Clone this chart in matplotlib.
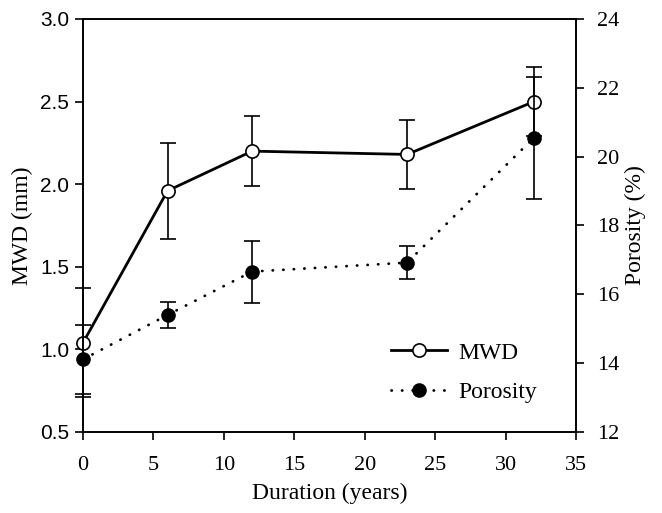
import numpy as np
import matplotlib.pyplot as plt

# ==============================
# DATA
# ==============================

duration = [0, 6, 12, 23, 32]

mwd = [1.04, 1.96, 2.20, 2.18, 2.50]
mwd_err = [0.33, 0.29, 0.21, 0.21, 0.21]

porosity = [14.11, 15.40, 16.66, 16.92, 20.55]
porosity_err = [1.0, 0.39, 0.9, 0.48, 1.77]

SERIF = "Liberation Serif"
SANS = "Liberation Sans"

# ==============================
# PLOT
# ==============================

fig = plt.figure(figsize=(6.62, 5.13), dpi=100)
ax = fig.add_axes([0.1254, 0.158, 0.745, 0.805])
ax2 = ax.twinx()

mwd_plot = ax.errorbar(duration, mwd, yerr=mwd_err,
                       color="black", linewidth=2, marker="o", markersize=9.5,
                       markerfacecolor="white", markeredgecolor="black",
                       markeredgewidth=1.2, ecolor="black", elinewidth=1.2,
                       capsize=6, capthick=1.2, clip_on=False, zorder=3)

por_plot = ax2.errorbar(duration, porosity, yerr=porosity_err,
                        color="black", linewidth=2, linestyle=(0, (0.1, 3.7)),
                        marker="o", markersize=9.5, markerfacecolor="black",
                        markeredgecolor="black", ecolor="black", elinewidth=1.2,
                        capsize=6, capthick=1.2, clip_on=False, zorder=3)
por_plot[0].set_dash_capstyle("round")

ax.set_xlim(0, 35)
ax.set_ylim(0.5, 3.0)
ax2.set_ylim(12, 24)

ax.set_xticks(np.arange(0, 36, 5))
ax.set_yticks(np.arange(0.5, 3.01, 0.5))
ax2.set_yticks(np.arange(12, 25, 2))

ax.set_xticklabels([str(v) for v in range(0, 36, 5)], fontfamily=SERIF, fontsize=16)
ax.set_yticklabels(["0.5", "1.0", "1.5", "2.0", "2.5", "3.0"], fontfamily=SANS, fontsize=15)
ax2.set_yticklabels([str(v) for v in range(12, 25, 2)], fontfamily=SERIF, fontsize=16)

ax.tick_params(axis="x", direction="out", length=6, width=1.2, pad=11)
ax.tick_params(axis="y", direction="out", length=6, width=1.2, pad=4)
ax2.tick_params(axis="y", direction="out", length=6, width=1.2, pad=9)

for a in (ax, ax2):
    for s in a.spines.values():
        s.set_linewidth(1.2)

ax.set_xlabel("Duration (years)", fontfamily=SERIF, fontsize=17, labelpad=6)
ax.set_ylabel("MWD (mm)", fontfamily=SERIF, fontsize=17, labelpad=5)
ax2.set_ylabel("Porosity (%)", fontfamily=SERIF, fontsize=17, labelpad=4)

ax2.legend([mwd_plot[0], por_plot[0]], ["MWD", "Porosity"],
           loc="center left", bbox_to_anchor=(0.624, 0.144), frameon=False,
           prop={"family": SERIF, "size": 17}, handlelength=2.4,
           labelspacing=0.75, handletextpad=0.45, borderaxespad=0, borderpad=0)

fig.savefig("out.png", dpi=100)
